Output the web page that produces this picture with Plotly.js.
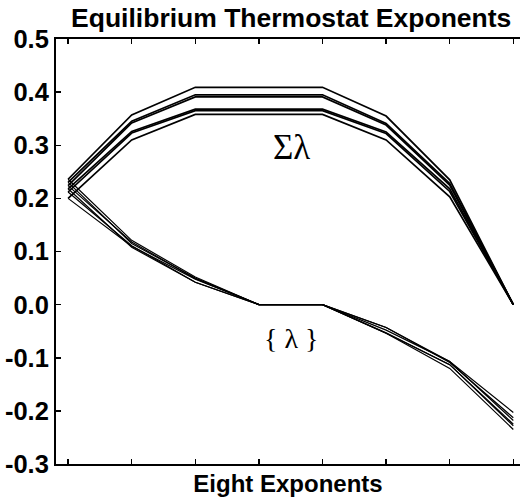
<!DOCTYPE html>
<html>
<head>
<meta charset="utf-8">
<script src="https://cdn.plot.ly/plotly-3.0.1.min.js"></script>
<style>html,body{margin:0;padding:0;background:#fff;}#chart{width:520px;height:504px;}</style>
</head>
<body>
<div id="chart"></div>
<script>
// Exponent index
const exponentIndex = [1, 2, 3, 4, 5, 6, 7, 8];
// Eight Lyapunov exponents {λ} for six runs
const lambdaRunA = [0.236, 0.121, 0.052, 0, 0, -0.054, -0.120, -0.235];
const lambdaRunB = [0.230, 0.115, 0.050, 0, 0, -0.054, -0.113, -0.228];
const lambdaRunC = [0.224, 0.118, 0.049, 0, 0, -0.053, -0.113, -0.225];
const lambdaRunD = [0.218, 0.108, 0.042, 0, 0, -0.043, -0.107, -0.218];
const lambdaRunE = [0.212, 0.111, 0.042, 0, 0, -0.043, -0.109, -0.213];
const lambdaRunF = [0.200, 0.110, 0.048, 0, 0, -0.048, -0.107, -0.203];
// Y tick labels
const yTickVals = [-0.3, -0.2, -0.1, 0.0, 0.1, 0.2, 0.3, 0.4, 0.5];
const yTickText = ["-0.3", "-0.2", "-0.1", "0.0", "0.1", "0.2", "0.3", "0.4", "0.5"];

const runs = [lambdaRunA, lambdaRunB, lambdaRunC, lambdaRunD, lambdaRunE, lambdaRunF];
function cumulative(a) { let s = 0; return a.map(v => (s += v)); }

const traces = [];
runs.forEach(r => {
  traces.push({x: exponentIndex, y: cumulative(r), mode: 'lines', line: {color: '#000', width: 1.7}, hoverinfo: 'skip', showlegend: false});
});
runs.forEach(r => {
  traces.push({x: exponentIndex, y: r, mode: 'lines', line: {color: '#000', width: 1.2}, hoverinfo: 'skip', showlegend: false});
});

const layout = {
  width: 520, height: 504,
  margin: {l: 56, r: 0, t: 39, b: 40, pad: 0},
  paper_bgcolor: '#fff', plot_bgcolor: '#fff',
  showlegend: false,
  font: {family: 'Liberation Sans, Arial, sans-serif', color: '#000'},
  title: {text: '<b>Equilibrium Thermostat Exponents</b>', font: {size: 26.5, color: '#000'}, x: 0.56, xanchor: 'center', y: 0.965, yanchor: 'middle'},
  xaxis: {
    range: [0.81, 8.105], tickvals: exponentIndex, showticklabels: false,
    ticks: 'inside', ticklen: 5, tickwidth: 1.5, tickcolor: '#000',
    showline: true, linecolor: '#000', linewidth: 2, mirror: 'ticks',
    showgrid: false, zeroline: false,
    title: {text: '<b>Eight Exponents</b>', font: {size: 24, color: '#000'}, standoff: 10}
  },
  yaxis: {
    range: [-0.3, 0.5], tickvals: yTickVals, ticktext: yTickText,
    ticks: 'inside', ticklen: 5, tickwidth: 1.5, tickcolor: '#000',
    showline: true, linecolor: '#000', linewidth: 2,
    showgrid: false, zeroline: false,
    tickfont: {size: 25.5, color: '#000', family: 'Liberation Sans, Arial, sans-serif', weight: 'bold'}
  },
  annotations: [
    {x: 4.51, y: 0.296, xref: 'x', yref: 'y', text: 'Σλ', showarrow: false, font: {family: 'Liberation Serif, Times New Roman, serif', size: 35, color: '#000'}},
    {x: 4.51, y: -0.063, xref: 'x', yref: 'y', text: '{ λ }', showarrow: false, font: {family: 'Liberation Serif, Times New Roman, serif', size: 28, color: '#000'}}
  ]
};

Plotly.newPlot('chart', traces, layout, {staticPlot: true, displayModeBar: false});
</script>
</body>
</html>
